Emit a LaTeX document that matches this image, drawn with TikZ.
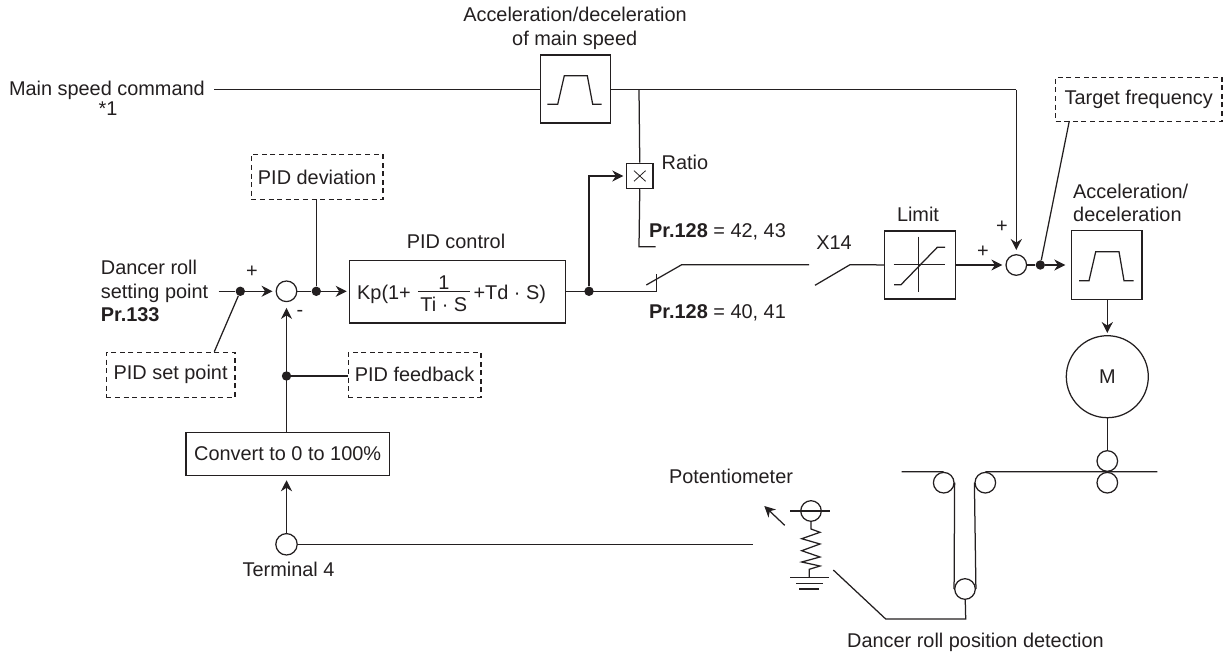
\documentclass[tikz,border=0pt]{standalone}
\usepackage{fontspec}
\setmainfont{Liberation Sans}
\usetikzlibrary{arrows.meta}
\definecolor{ink}{HTML}{231F20}
\newcommand{\bodyfont}{\fontsize{19.9}{23}\selectfont}
\newcommand{\gainfrac}{\raisebox{-12.2pt}{\vbox{\offinterlineskip\hbox to 52pt{\hfil 1\hfil}\kern1.5pt\hrule height 1.25pt\kern5.3pt\hbox to 52pt{\hfil Ti · S\hfil}}}}
\tikzset{
  x=1pt,y=-1pt,
  lab/.style={font=\bodyfont,text=ink,inner sep=0pt},
  sym/.style={font=\bodyfont,text=ink,inner sep=0pt},
  blockbox/.style={rectangle,draw=ink,line width=1.25pt,inner sep=0pt,anchor=north west,font=\bodyfont,text=ink},
  dashbox/.style={blockbox,dash pattern=on 5pt off 3.6pt},
  ring/.style={circle,draw=ink,line width=1.25pt,inner sep=0pt,minimum size=#1},
  ring/.default=20.6pt,
  junction/.style={circle,fill=ink,inner sep=0pt,minimum size=9.4pt},
  flow/.style={-{Stealth[length=11pt,width=11pt,inset=3.5pt]}},
  wire/.style={draw=ink,line width=1.25pt},
}
\begin{document}
\begin{tikzpicture}
\useasboundingbox (0,0) rectangle (1223,655);
% blocks
\node[blockbox,minimum width=70.2pt,minimum height=68pt] (accmain) at (539.5,54.3) {};
\node[blockbox,minimum width=26.3pt,minimum height=25.3pt] (ratio) at (626,162.7) {};
\node[blockbox,minimum width=216pt,minimum height=62.3pt] (pid) at (348.7,260) {};
\node[blockbox,minimum width=70.7pt,minimum height=68pt] (limit) at (884,230.3) {};
\node[blockbox,minimum width=70.6pt,minimum height=68.7pt] (acc) at (1070.7,230) {};
\node[blockbox,minimum width=203.4pt,minimum height=43pt] (conv) at (185.3,432) {Convert to 0 to 100\%};
% dashed labels
\node[dashbox,minimum width=131.6pt,minimum height=44.7pt] (dev) at (250.7,154) {PID deviation};
\node[dashbox,minimum width=128.6pt,minimum height=45pt] (setp) at (105.7,351.7) {PID set point};
\node[dashbox,minimum width=132.6pt,minimum height=45pt] (fb) at (347.7,351.7) {PID feedback};
\node[dashbox,minimum width=166.3pt,minimum height=44.3pt] (tf) at (1055,76.7) {Target frequency};
% circles
\node[ring] (sum1) at (286.5,291.3) {};
\node[ring] (sum2) at (1016.3,265) {};
\node[ring=21.4pt] (t4) at (286.5,544.3) {};
\node[ring=82pt,font=\bodyfont,text=ink] (motor) at (1107.3,376.7) {M};
\node[ring] (rolla) at (1107.3,461) {};
\node[ring] (rollb) at (1107.3,482.7) {};
\node[ring] (rollc) at (943.7,482.7) {};
\node[ring] (rolld) at (985.3,482.7) {};
\node[ring] (rolle) at (965,589) {};
\node[ring] (pot) at (811,511) {};
% junctions
\node[junction] (j1) at (240.3,291.3) {};
\node[junction] (j2) at (316.3,291.3) {};
\node[junction] (j3) at (589,291.3) {};
\node[junction] (j4) at (286.5,376) {};
\node[junction] (j5) at (1040.3,265) {};
% free ends
\coordinate (mainin) at (214,89.7);
\coordinate (mainc) at (639,89.7);
\coordinate (mainr) at (1016.3,89.7);
\coordinate (spin) at (218.7,291.3);
\coordinate (weba) at (901.7,471.7);
\coordinate (webb) at (1157.3,471.7);
% main connectors
\draw[wire] (mainin) -- (accmain.west |- mainin);
\draw[wire] (accmain.east |- mainc) -- (mainr);
\draw[wire,flow,shorten >=4pt] (mainr) -- (sum2);
\draw[wire] (mainc) -- (ratio.north);
\draw[wire] (ratio.south) -- (639,246.7) -- (655.7,246.7);
\draw[draw=ink,line width=.8pt] ([shift={(8,8)}]ratio.north west) -- ([shift={(-8,-8)}]ratio.south east);
\draw[draw=ink,line width=.8pt] ([shift={(-8,8)}]ratio.north east) -- ([shift={(8,-8)}]ratio.south west);
\draw[wire,flow,shorten >=2.7pt] (j3) -- (j3 |- ratio.west) -- (ratio.west);
\draw[wire] (spin) -- (j1);
\draw[wire,flow,shorten >=3pt] (j1) -- (sum1);
\draw[wire] (sum1) -- (j2);
\draw[wire,flow,shorten >=2pt] (j2) -- (pid.west |- j2);
\draw[wire] (j2) -- (j2 |- dev.south);
\draw[wire] (j1) -- (214.3,351.7);
\draw[wire,flow,shorten >=5.7pt] (conv.north -| sum1) -- (sum1);
\draw[wire] (j4) -- (fb.west |- j4);
\draw[wire,flow,shorten >=4pt] (t4) -- (t4 |- conv.south);
\draw[wire] (t4) -- (753,544.3);
\draw[wire] (pid.east |- j3) -- (656.3,291.3) -- (656.3,274);
\draw[wire] (646.3,285) -- (681.7,264.7) -- (809,264.7);
\draw[wire] (815,285.3) -- (850,264.7) -- (limit.west);
\draw[wire,flow,shorten >=3pt] (limit.east |- sum2) -- (sum2);
\draw[wire] (sum2) -- (j5);
\draw[wire,flow,shorten >=5.4pt] (j5) -- (acc.west |- j5);
\draw[wire] (j5) -- (1069.3,121);
\draw[wire,flow,shorten >=2pt] (acc.south -| motor) -- (motor);
\draw[wire] (motor) -- (rolla);
% ramp glyphs
\draw[wire] (547.3,104.3) -- (557.7,104.3) -- (564.3,75.7) -- (587.3,75.7) -- (592.7,104.3) -- (601.7,104.3);
\draw[wire] (1079,280.7) -- (1089,280.7) -- (1095.7,251.7) -- (1119,251.7) -- (1124,280.7) -- (1133.7,280.7);
% limiter glyph
\draw[wire] (893.7,264.4) -- (945,264.4);
\draw[wire] (918.7,236.7) -- (918.7,292.3);
\draw[wire] (894,284.7) -- (901,284.7) -- (937.3,247.3) -- (945,247.3);
% web
\draw[wire] (weba) -- (rollc.north);
\draw[wire] (rollc.east) -- (rolle.west);
\draw[wire] (rolld.west) -- (rolle.east);
\draw[wire] (rolld.north) -- (webb);
% potentiometer
\draw[wire] (790,511) -- (829.7,511);
\draw[wire,flow] (784.7,525.3) -- (764.3,506);
\draw[wire] (pot) -- (811,529) -- (820,532.3) -- (801.7,538.7) -- (820,544) -- (801.7,550.7) -- (820,557) -- (801.7,562) -- (820,566) -- (809.3,569.3) -- (809.3,577.7);
\draw[wire] (790,577.7) -- (828.7,577.7);
\draw[wire] (796,583.3) -- (822.7,583.3);
\draw[wire] (799.3,589) -- (819.3,589);
\draw[wire] (833.3,570) -- (885.7,619) -- (965.7,619) -- (rolle);
% labels
\node[lab,anchor=base] (l1) at (575,22) {Acceleration/deceleration};
\node[lab,anchor=base] (l2) at (574.7,45.7) {of main speed};
\node[lab,anchor=base east] (l3) at (205,96) {Main speed command};
\node[lab,anchor=base] (l4) at (108,116) {*1};
\node[lab,anchor=base west] (l5) at (661.5,170) {Ratio};
\node[lab,anchor=base west] (l6) at (649,237) {\textbf{Pr.128} = 42, 43};
\node[lab,anchor=base west] (l7) at (649,318) {\textbf{Pr.128} = 40, 41};
\node[lab,anchor=base] (l8) at (456,248) {PID control};
\node[lab,anchor=base] (l9) at (834,249.3) {X14};
\node[lab,anchor=base] (l10) at (918,221.7) {Limit};
\node[lab,anchor=base west] (l11) at (1073,199) {Acceleration/};
\node[lab,anchor=base west] (l12) at (1073,221.7) {deceleration};
\node[lab,anchor=base west] (l13) at (100.7,274) {Dancer roll};
\node[lab,anchor=base west] (l14) at (100.7,298) {setting point};
\node[lab,anchor=base west] (l15) at (100.7,321.7) {\textbf{Pr.133}};
\node[sym] (l16) at (252,272) {+};
\node[sym] (l17) at (300,313) {-};
\node[sym] (l18) at (1002,227) {+};
\node[sym] (l19) at (983,252) {+};
\node[lab,anchor=base] (l20) at (288.5,576) {Terminal 4};
\node[lab,anchor=base] (l21) at (731,483) {Potentiometer};
\node[lab,anchor=base west] (l22) at (847,647) {Dancer roll position detection};
\node[lab,anchor=base west] (formula) at (357,299.5) {Kp(1+\hspace{7pt}\gainfrac\hspace{3.7pt}+Td · S)};
\end{tikzpicture}
\end{document}
